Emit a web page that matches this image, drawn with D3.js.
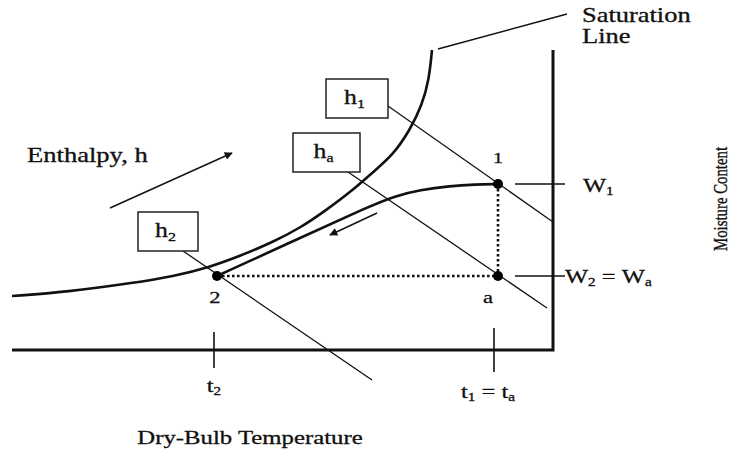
<!DOCTYPE html>
<html>
<head>
<meta charset="utf-8">
<script src="https://cdn.jsdelivr.net/npm/d3@7"></script>
<style>
  html, body { margin: 0; padding: 0; background: #fff; }
  svg { display: block; }
  text { font-family: "Liberation Serif", "Times New Roman", serif; fill: #111; stroke: #111; stroke-width: 0.3px; }
</style>
</head>
<body>
<svg id="chart" width="730" height="451"></svg>
<script>
// ---- Data (abstract units: dry-bulb temperature on x, moisture content on y) ----
const xDomain = [0, 54.1];
const yDomain = [0, 30];

// Saturation line (dry-bulb, moisture)
const saturationT = [0, 5.5, 12.1, 16.3, 19.8, 22.8, 26.1, 28.8, 31.3, 34.1, 36.1, 38.1, 39.8, 41.0, 41.7, 42.0];
const saturationW = [5.4, 5.8, 6.7, 7.4, 8.3, 9.4, 10.8, 12.2, 13.9, 16.0, 17.8, 19.5, 22.0, 24.5, 27.0, 30.0];

// Cooling process path from state 2 to state 1
const processT = [20.5, 28.8, 35.8, 38.3, 40.8, 43.8, 46.3, 48.6];
const processW = [7.4, 11.2, 14.4, 15.4, 16.0, 16.4, 16.55, 16.6];

// State points
const stateNames = ["1", "2", "a"];
const stateT = [48.6, 20.5, 48.6];
const stateW = [16.6, 7.4, 7.4];
const stateLabelT = [48.6, 20.3, 47.6];
const stateLabelW = [18.7, 4.7, 4.7];

// Enthalpy lines (start/end points) and their boxed labels
const enthalpyNames = ["h1", "ha", "h2"];
const enthalpyStartT = [37.6, 33.6, 17.1];
const enthalpyStartW = [24.4, 17.8, 9.9];
const enthalpyEndT = [54.1, 53.5, 36.0];
const enthalpyEndW = [12.8, 4.2, -3.0];
const boxLeftT = [31.4, 28.1, 12.6];
const boxRightT = [37.6, 34.8, 18.6];
const boxTopW = [27.1, 21.7, 13.8];
const boxBottomW = [23.2, 17.8, 9.9];

// Tick marks on the axes
const tempTickNames = ["t2", "t1 = ta"];
const tempTickValues = [20.2, 48.2];
const moistTickNames = ["W1", "W2 = Wa"];
const moistTickValues = [16.6, 7.4];

// ---- Scales ----
const X = d3.scaleLinear().domain(xDomain).range([12, 553]);
const Y = d3.scaleLinear().domain(yDomain).range([350, 50]);

const svg = d3.select("#chart");
svg.append("rect").attr("width", 730).attr("height", 451).attr("fill", "#fff");

svg.append("defs").append("marker")
  .attr("id", "arrow").attr("viewBox", "0 0 10 10")
  .attr("refX", 9).attr("refY", 5)
  .attr("markerWidth", 11).attr("markerHeight", 8)
  .attr("markerUnits", "userSpaceOnUse")
  .attr("orient", "auto")
  .append("path").attr("d", "M0,0 L10,5 L0,10 Z").attr("fill", "#111");

const SX = 1.29; // horizontal stretch of the original lettering
function label(x, y, parts, size, anchor, rotate) {
  const g = svg.append("g")
    .attr("transform", `translate(${x},${y}) scale(${SX},1)` + (rotate ? ` rotate(${rotate})` : ""));
  const t = g.append("text").attr("font-size", size).attr("text-anchor", anchor || "start");
  parts.forEach(p => {
    const ts = t.append("tspan").text(p.t);
    if (p.sub) ts.attr("font-size", size * 0.62).attr("dy", size * 0.18);
    else if (p.back) ts.attr("dy", -size * 0.18);
  });
  return t;
}
function labelParts(name) {
  const out = [];
  name.split(" ").forEach((tok, i) => {
    const prevSub = out.length > 0 && out[out.length - 1].sub;
    if (i > 0) out.push({t: " ", back: prevSub});
    if (tok.length === 2 && /[A-Za-z]/.test(tok[0])) {
      out.push({t: tok[0]});
      out.push({t: tok[1], sub: true});
    } else {
      out.push({t: tok});
    }
  });
  return out;
}

// ---- Axes (frame) ----
svg.append("path")
  .attr("d", d3.line()([[X(xDomain[0]), Y(0)], [X(xDomain[1]), Y(0)], [X(xDomain[1]), Y(yDomain[1])]]))
  .attr("fill", "none").attr("stroke", "#111").attr("stroke-width", 3);

// temperature ticks
const tickHalf = [18, 22];
tempTickValues.forEach((v, i) => {
  svg.append("line").attr("x1", X(v)).attr("x2", X(v))
    .attr("y1", Y(0) - tickHalf[i]).attr("y2", Y(0) + tickHalf[i])
    .attr("stroke", "#111").attr("stroke-width", 1.6);
});
// moisture ticks
moistTickValues.forEach(v => {
  svg.append("line").attr("x1", X(50.3)).attr("x2", X(55.3))
    .attr("y1", Y(v)).attr("y2", Y(v))
    .attr("stroke", "#111").attr("stroke-width", 1.4);
});

// ---- Enthalpy lines and boxes ----
enthalpyNames.forEach((n, i) => {
  svg.append("line")
    .attr("x1", X(enthalpyStartT[i])).attr("y1", Y(enthalpyStartW[i]))
    .attr("x2", X(enthalpyEndT[i])).attr("y2", Y(enthalpyEndW[i]))
    .attr("stroke", "#111").attr("stroke-width", 1.3);
  svg.append("rect")
    .attr("x", X(boxLeftT[i])).attr("y", Y(boxTopW[i]))
    .attr("width", X(boxRightT[i]) - X(boxLeftT[i]))
    .attr("height", Y(boxBottomW[i]) - Y(boxTopW[i]))
    .attr("fill", "#fff").attr("stroke", "#222").attr("stroke-width", 1.5);
  const cx = (X(boxLeftT[i]) + X(boxRightT[i])) / 2;
  const cy = (Y(boxTopW[i]) + Y(boxBottomW[i])) / 2;
  label(cx - 13, cy + 5.5, [{t: n[0]}, {t: n[1], sub: true}], 20, "start");
});

// ---- Saturation line ----
const satPts = saturationT.map((t, i) => [X(t), Y(saturationW[i])]);
svg.append("path").attr("d", d3.line().curve(d3.curveBasis)(satPts))
  .attr("fill", "none").attr("stroke", "#111").attr("stroke-width", 2.6);

// ---- Process path ----
const procPts = processT.map((t, i) => [X(t), Y(processW[i])]);
svg.append("path").attr("d", d3.line().curve(d3.curveBasis)(procPts))
  .attr("fill", "none").attr("stroke", "#111").attr("stroke-width", 2.6);

// ---- Dotted construction lines ----
svg.append("line")
  .attr("x1", X(stateT[1])).attr("y1", Y(stateW[1]))
  .attr("x2", X(stateT[2])).attr("y2", Y(stateW[2]))
  .attr("stroke", "#111").attr("stroke-width", 2.6).attr("stroke-dasharray", "2.6,2.4");
svg.append("line")
  .attr("x1", X(stateT[0])).attr("y1", Y(stateW[0]))
  .attr("x2", X(stateT[2])).attr("y2", Y(stateW[2]))
  .attr("stroke", "#111").attr("stroke-width", 2.6).attr("stroke-dasharray", "2.6,2.4");

// ---- State points ----
stateNames.forEach((n, i) => {
  svg.append("circle").attr("cx", X(stateT[i])).attr("cy", Y(stateW[i])).attr("r", 5).attr("fill", "#000");
  label(X(stateLabelT[i]), Y(stateLabelW[i]), [{t: n}], n === "1" ? 15.5 : 17.5, "middle");
});

// ---- Arrows ----
svg.append("line")
  .attr("x1", X(9.8)).attr("y1", Y(14.2)).attr("x2", X(22.0)).attr("y2", Y(19.7))
  .attr("stroke", "#111").attr("stroke-width", 1.4).attr("marker-end", "url(#arrow)");
svg.append("line")
  .attr("x1", X(36.5)).attr("y1", Y(13.7)).attr("x2", X(31.8)).attr("y2", Y(11.5))
  .attr("stroke", "#111").attr("stroke-width", 1.4).attr("marker-end", "url(#arrow)");

// Saturation leader
svg.append("line")
  .attr("x1", X(42.6)).attr("y1", Y(30.1)).attr("x2", X(55.5)).attr("y2", Y(33.6))
  .attr("stroke", "#111").attr("stroke-width", 1.4);

// ---- Texts ----
label(582, 22, [{t: "Saturation"}], 20.5, "start");
label(582, 43, [{t: "Line"}], 20.5, "start");
label(27, 162, [{t: "Enthalpy, h"}], 20.6, "start");
label(250, 444, [{t: "Dry-Bulb Temperature"}], 19.2, "middle");
label(727, 199, [{t: "Moisture Content"}], 14.8, "middle", -90);

// tick labels
label(X(tempTickValues[0]), 392, labelParts(tempTickNames[0]), 19, "middle");
label(X(tempTickValues[1]) - 6, 398, labelParts(tempTickNames[1]), 19, "middle");
label(583, Y(moistTickValues[0]) + 8, labelParts(moistTickNames[0]), 19, "start");
label(565, Y(moistTickValues[1]) + 7, labelParts(moistTickNames[1]), 19, "start");
</script>
</body>
</html>
